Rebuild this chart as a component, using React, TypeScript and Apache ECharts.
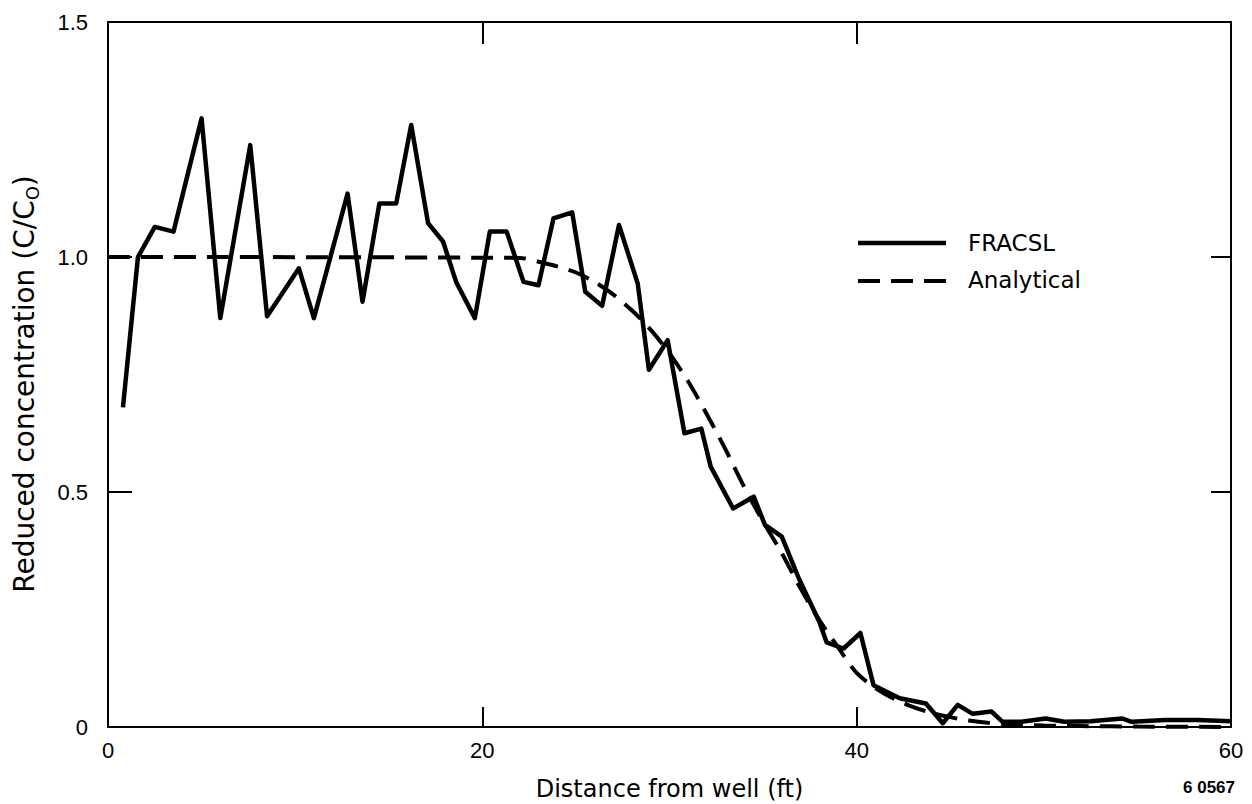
import React, { useEffect, useRef } from "react";
import * as echarts from "echarts";

const fracslX = [0.8, 1.6, 2.5, 3.5, 5.0, 6.0, 7.6, 8.5, 10.2, 11.0, 12.8, 13.6, 14.5, 15.4, 16.2, 17.1, 17.9, 18.6, 19.6, 20.4, 21.3, 22.2, 23.0, 23.8, 24.8, 25.5, 26.4, 27.3, 28.3, 28.9, 29.9, 30.8, 31.7, 32.2, 33.4, 34.5, 35.1, 36.0, 36.9, 38.0, 38.4, 39.3, 40.2, 40.9, 42.3, 43.7, 44.6, 45.4, 46.2, 47.2, 47.8, 48.8, 50.1, 51.1, 52.5, 54.2, 54.7, 56.5, 58.2, 60];
const fracslY = [0.68, 1.0, 1.064, 1.054, 1.295, 0.87, 1.238, 0.874, 0.976, 0.87, 1.135, 0.905, 1.114, 1.114, 1.281, 1.072, 1.033, 0.947, 0.87, 1.054, 1.054, 0.947, 0.94, 1.082, 1.095, 0.926, 0.896, 1.068, 0.944, 0.76, 0.823, 0.625, 0.635, 0.554, 0.465, 0.49, 0.43, 0.405, 0.317, 0.224, 0.18, 0.167, 0.2, 0.089, 0.061, 0.05, 0.008, 0.047, 0.028, 0.033, 0.011, 0.011, 0.018, 0.011, 0.012, 0.018, 0.011, 0.015, 0.015, 0.012];

const analyticalX = [0, 22, 23, 24, 25, 26, 27, 28, 29, 30, 31, 32, 33, 34, 35, 36, 37, 38, 39, 40, 41, 42, 43, 44, 45, 46, 47, 48, 50, 52, 55, 60];
const analyticalY = [1.0, 0.998, 0.99, 0.98, 0.967, 0.947, 0.92, 0.886, 0.845, 0.795, 0.735, 0.665, 0.59, 0.51, 0.437, 0.37, 0.295, 0.228, 0.17, 0.115, 0.083, 0.06, 0.043, 0.03, 0.021, 0.014, 0.009, 0.006, 0.003, 0.002, 0.001, 0.0];

const xTickLabels = ["0", "20", "40", "60"];
const yTickLabels = ["0", "0.5", "1.0", "1.5"];
const seriesNames = ["FRACSL", "Analytical"];

const NUM_FONT = "'Liberation Sans', Arial, Helvetica, sans-serif";
const WORD_FONT = "'DejaVu Sans', 'Liberation Sans', sans-serif";

export default function App() {
  const ref = useRef<HTMLDivElement>(null);
  useEffect(() => {
    document.body.style.margin = "0";
    if (!ref.current) return;
    const chart = echarts.init(ref.current, undefined, { renderer: "svg" });
    const axisLine = { show: true, onZero: false, lineStyle: { color: "#000", width: 2 } };
    const tick = (len: number) => ({ show: true, inside: true, length: len, lineStyle: { color: "#000", width: 2 } });
    const dash = [22, 11];
    chart.setOption({
      animation: false,
      backgroundColor: "#fff",
      textStyle: { fontFamily: NUM_FONT, color: "#000" },
      grid: { left: 108, right: 21, top: 22, bottom: 77, outerBoundsMode: "none", containLabel: false },
      xAxis: [
        {
          type: "value", min: 0, max: 60, interval: 20, position: "bottom",
          axisLine, axisTick: tick(20), splitLine: { show: false },
          axisLabel: { fontSize: 22, color: "#000", margin: 12, fontFamily: NUM_FONT, formatter: (v: number) => xTickLabels[Math.round(v / 20)] },
          name: "Distance from well (ft)", nameLocation: "middle", nameGap: 50,
          nameTextStyle: { fontSize: 24, color: "#000", fontFamily: WORD_FONT },
        },
        {
          type: "value", min: 0, max: 60, interval: 20, position: "top",
          axisLine, axisTick: tick(22), splitLine: { show: false }, axisLabel: { show: false },
        },
      ],
      yAxis: [
        {
          type: "value", min: 0, max: 1.5, interval: 0.5, position: "left",
          axisLine, axisTick: tick(24), splitLine: { show: false },
          axisLabel: { fontSize: 22, color: "#000", margin: 20, fontFamily: NUM_FONT, formatter: (v: number) => yTickLabels[Math.round(v / 0.5)] },
        },
        {
          type: "value", min: 0, max: 1.5, interval: 0.5, position: "right",
          axisLine, axisTick: tick(20), splitLine: { show: false }, axisLabel: { show: false },
        },
      ],
      graphic: [
        {
          type: "text", x: 24, y: 384, rotation: Math.PI / 2,
          style: {
            text: "Reduced concentration (C/C{sub|O})",
            fontSize: 28, lineHeight: 34, fontFamily: WORD_FONT, fill: "#000", align: "center", verticalAlign: "middle",
            rich: { sub: { fontSize: 18, lineHeight: 18, verticalAlign: "bottom", fontFamily: WORD_FONT, fill: "#000" } },
          },
        },
        { type: "line", shape: { x1: 858, y1: 243, x2: 946, y2: 243 }, style: { stroke: "#000", lineWidth: 4.5 } },
        { type: "text", x: 968, y: 243, style: { text: seriesNames[0], fontSize: 23, fontFamily: WORD_FONT, fill: "#000", verticalAlign: "middle" } },
        { type: "line", shape: { x1: 858, y1: 281, x2: 946, y2: 281 }, style: { stroke: "#000", lineWidth: 4, lineDash: dash } },
        { type: "text", x: 968, y: 280, style: { text: seriesNames[1], fontSize: 23, fontFamily: WORD_FONT, fill: "#000", verticalAlign: "middle" } },
        { type: "text", right: 17, top: 779, style: { text: "6 0567", fontSize: 17, fontWeight: "bold", fontFamily: NUM_FONT, fill: "#000" } },
      ],
      series: [
        {
          name: seriesNames[0], type: "line", xAxisIndex: 0, yAxisIndex: 0,
          data: fracslX.map((x, i) => [x, fracslY[i]]),
          symbol: "none", lineStyle: { color: "#000", width: 4.5, join: "round" }, itemStyle: { color: "#000" },
          z: 3,
        },
        {
          name: seriesNames[1], type: "line", xAxisIndex: 0, yAxisIndex: 0,
          data: analyticalX.map((x, i) => [x, analyticalY[i]]),
          symbol: "none", smooth: 0.3,
          lineStyle: { color: "#000", width: 4, type: dash }, itemStyle: { color: "#000" },
          z: 2,
        },
      ],
    });
    return () => chart.dispose();
  }, []);
  return <div ref={ref} style={{ width: 1252, height: 804 }} />;
}
